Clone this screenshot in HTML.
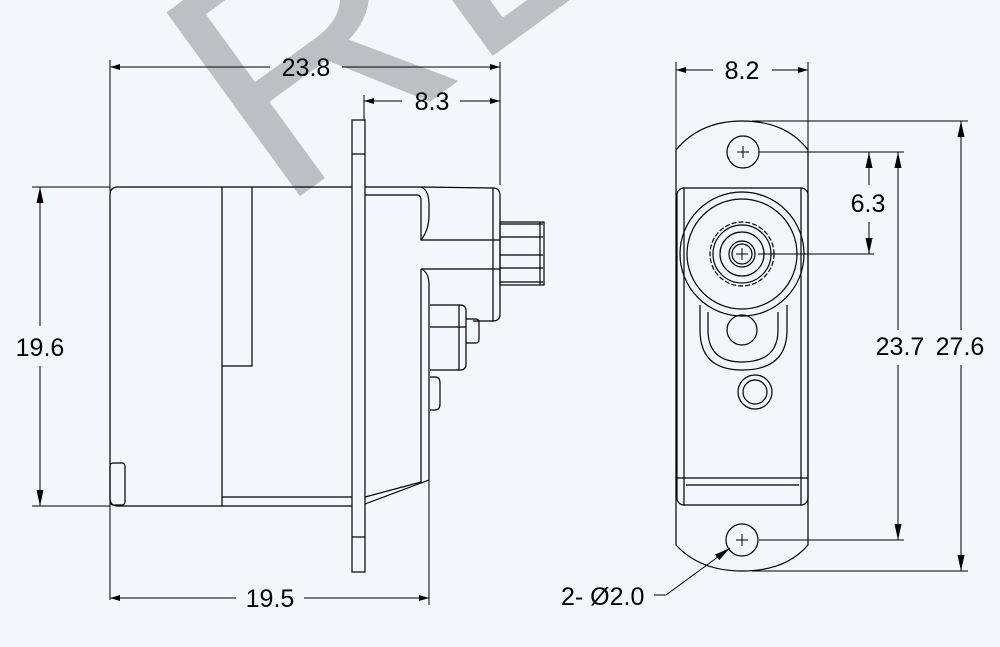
<!DOCTYPE html>
<html><head><meta charset="utf-8"><style>
html,body{margin:0;padding:0;background:#f2f7fc;}
svg{display:block;}
text{font-family:"Liberation Sans",sans-serif;}
</style></head><body>
<svg width="1000" height="647" viewBox="0 0 1000 647" xmlns="http://www.w3.org/2000/svg">
<defs>
<marker id="a" viewBox="0 0 10 6" refX="10" refY="3" markerWidth="10" markerHeight="6" markerUnits="userSpaceOnUse" orient="auto"><path d="M0,0 L10,3 L0,6 z" fill="#000"/></marker>
<marker id="b" viewBox="0 0 16 7" refX="16" refY="3.5" markerWidth="16" markerHeight="7" markerUnits="userSpaceOnUse" orient="auto"><path d="M0,0 L16,3.5 L0,7 z" fill="#000"/></marker>
</defs>
<rect width="1000" height="647" fill="#f2f7fc"/>
<text x="0" y="0" font-size="330" fill="#bcc0c4" transform="translate(278,212) rotate(-36)">REF</text>

<g fill="none" stroke="#000" stroke-width="1.2">
<path d="M118,187 L352,187 M110,195 Q110,187 118,187 M110,195 L110,498 Q110,506 118,506 L352,506"/>
<line x1="222" y1="187" x2="222" y2="506"/>
<path d="M252,187 L252,366 L222,366"/>
<path d="M222,497 L352,497"/>
<rect x="110" y="463" width="15" height="42" rx="3"/>
<rect x="352" y="120" width="13" height="452"/>
<line x1="352" y1="154" x2="365" y2="154"/>
<line x1="352" y1="537" x2="365" y2="537"/>
<path d="M365,187 L420,187"/>
<path d="M365,195 L417,195 Q421,195 421,200 L421,240 L500,240"/>
<path d="M420,187 L493,188 Q500,188 500,196 L500,314 Q500,321 493,321 L473,321"/>
<line x1="493" y1="188" x2="493" y2="321"/>
<path d="M421,187 Q429,190 429,205 L429,215 Q429,230 421,240"/>
<path d="M421,269 L500,269"/>
<path d="M421,269 L421,482 L365,497"/>
<path d="M421,269 Q429,272 429,285 L429,480 L365,504"/>
<rect x="500" y="222" width="44" height="63"/>
<line x1="500" y1="224" x2="543" y2="224"/>
<line x1="500" y1="237" x2="543" y2="237"/>
<line x1="500" y1="255" x2="543" y2="255"/>
<line x1="500" y1="268" x2="543" y2="268"/>
<line x1="500" y1="282" x2="543" y2="282"/>
<line x1="540" y1="222" x2="540" y2="285"/>
<path d="M430,305 L460,305 Q466,305 466,311 L466,364 Q466,370 460,370 L430,370"/>
<line x1="430" y1="327" x2="466" y2="327"/>
<line x1="459" y1="305" x2="459" y2="370"/>
<path d="M466,319 L476,319 Q479,319 479,323 L479,339 Q479,343 476,343 L466,343"/>
<path d="M430,377 L435,377 Q440,377 440,383 L440,404 Q440,410 435,410 L430,410"/>

<g stroke-width="1">
<line x1="110" y1="60" x2="110" y2="600"/>
<line x1="500" y1="62" x2="500" y2="185"/>
<line x1="364" y1="95" x2="364" y2="120"/>
<line x1="429" y1="480" x2="429" y2="605"/>
<line x1="270" y1="67" x2="110" y2="67" marker-end="url(#a)"/>
<line x1="342" y1="67" x2="500" y2="67" marker-end="url(#a)"/>
<line x1="402" y1="101" x2="364" y2="101" marker-end="url(#a)"/>
<line x1="460" y1="101" x2="500" y2="101" marker-end="url(#a)"/>
<line x1="32" y1="187" x2="110" y2="187"/>
<line x1="32" y1="506" x2="110" y2="506"/>
<line x1="40" y1="326" x2="40" y2="187" marker-end="url(#b)"/>
<line x1="40" y1="366" x2="40" y2="506" marker-end="url(#b)"/>
<line x1="236" y1="598" x2="110" y2="598" marker-end="url(#a)"/>
<line x1="304" y1="598" x2="429" y2="598" marker-end="url(#a)"/>
</g>

<path d="M676,150 Q700,121 742,121 Q786,121 808,150 L808,545 Q786,571 742,571 Q700,571 676,545 Z"/>
<rect x="677" y="188" width="131" height="317" rx="7"/>
<line x1="684" y1="188" x2="684" y2="505"/>
<line x1="801" y1="188" x2="801" y2="505"/>
<path d="M677,478 L808,478"/>
<line x1="686" y1="485" x2="799" y2="485"/>
<circle cx="743" cy="152" r="16"/>
<circle cx="742" cy="540" r="16"/>
<circle cx="742" cy="254" r="62"/>
<circle cx="742" cy="254" r="55"/>
<circle cx="742" cy="254" r="32" stroke-dasharray="5 2"/>
<circle cx="742" cy="254" r="29"/>
<circle cx="742" cy="254" r="22"/>
<circle cx="742" cy="254" r="13"/>
<circle cx="742" cy="254" r="10"/>
<path d="M700,305 L700,330 Q700,370 742,370 Q787,370 787,330 L787,305"/>
<path d="M708,312 L708,330 Q708,362 742,362 Q778,362 778,330 L778,312"/>
<circle cx="742" cy="330" r="15"/>
<circle cx="755" cy="392" r="17"/>
<circle cx="755" cy="392" r="12"/>
</g>
<g stroke="#000" stroke-width="1">
<line x1="737" y1="152" x2="749" y2="152"/><line x1="743" y1="146" x2="743" y2="158"/>
<line x1="736" y1="540" x2="748" y2="540"/><line x1="742" y1="534" x2="742" y2="546"/>
<line x1="736" y1="254" x2="748" y2="254"/><line x1="742" y1="248" x2="742" y2="260"/>
<line x1="676" y1="62" x2="676" y2="150"/>
<line x1="808" y1="62" x2="808" y2="150"/>
<line x1="713" y1="70" x2="676" y2="70" marker-end="url(#a)"/>
<line x1="772" y1="70" x2="808" y2="70" marker-end="url(#a)"/>
<line x1="752" y1="121" x2="968" y2="121"/>
<line x1="752" y1="571" x2="968" y2="571"/>
<line x1="759" y1="152" x2="904" y2="152"/>
<line x1="759" y1="540" x2="904" y2="540"/>
<line x1="758" y1="254" x2="874" y2="254"/>
<line x1="869" y1="185" x2="869" y2="152" marker-end="url(#b)"/>
<line x1="869" y1="222" x2="869" y2="254" marker-end="url(#b)"/>
<line x1="898" y1="330" x2="898" y2="152" marker-end="url(#b)"/>
<line x1="898" y1="365" x2="898" y2="540" marker-end="url(#b)"/>
<line x1="961" y1="330" x2="961" y2="121" marker-end="url(#b)"/>
<line x1="961" y1="365" x2="961" y2="571" marker-end="url(#b)"/>
<polyline points="654,595 666,595 730,548" fill="none" marker-end="url(#b)"/>
</g>

<g font-size="25" fill="#000">
<text x="306" y="76" text-anchor="middle">23.8</text>
<text x="432" y="110" text-anchor="middle">8.3</text>
<text x="40" y="356" text-anchor="middle">19.6</text>
<text x="270" y="607" text-anchor="middle">19.5</text>
<text x="742" y="79" text-anchor="middle">8.2</text>
<text x="868" y="212" text-anchor="middle">6.3</text>
<text x="900" y="355" text-anchor="middle">23.7</text>
<text x="960" y="355" text-anchor="middle">27.6</text>
<text x="561" y="605">2- Ø2.0</text>
</g>
</svg>
</body></html>
